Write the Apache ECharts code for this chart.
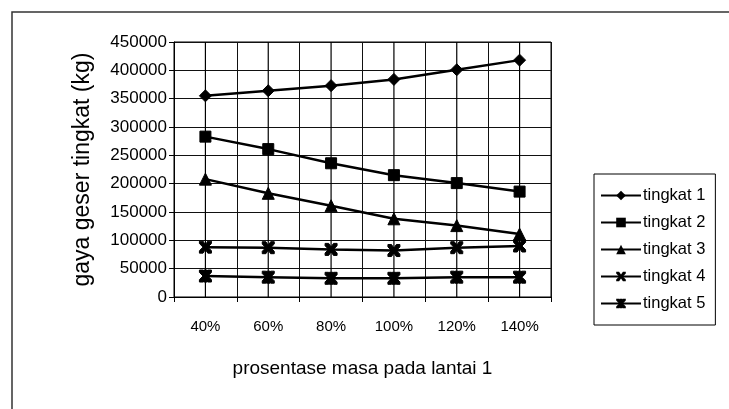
<!DOCTYPE html>
<html>
<head>
<meta charset="utf-8">
<script src="https://cdn.jsdelivr.net/npm/echarts@6/dist/echarts.min.js"></script>
<style>
  html, body { margin: 0; padding: 0; background: #fff; overflow: hidden; }
  #chart { width: 729px; height: 409px; }
</style>
</head>
<body>
<div id="chart"></div>
<script>
// Categories: share of mass on floor 1
const categories = ['40%', '60%', '80%', '100%', '120%', '140%'];

// Storey shear force (kg) for each floor
const tingkat1 = [355000, 364000, 373000, 384000, 401000, 418000];
const tingkat2 = [283000, 261000, 236000, 215000, 201000, 186000];
const tingkat3 = [208000, 183000, 161000, 138000, 126000, 111000];
const tingkat4 = [88000, 87000, 84000, 82000, 87000, 90000];
const tingkat5 = [37000, 35000, 33000, 33000, 35000, 35000];

const seriesNames = ['tingkat 1', 'tingkat 2', 'tingkat 3', 'tingkat 4', 'tingkat 5'];
const seriesValues = [tingkat1, tingkat2, tingkat3, tingkat4, tingkat5];

const yTicks = { min: 0, max: 450000, interval: 50000 };

// Marker shapes
const crossPath = 'path://M0,0 L3,0 L5,3 L7,0 L10,0 L10,2 L7,5 L10,8 L10,10 L7,10 L5,7 L3,10 L0,10 L0,8 L3,5 L0,2 Z';
const starPath = 'path://M0,0 L3,0 L5,3 L7,0 L10,0 L10,2 L7,5 L10,8 L10,10 L7,10 L5,7 L3,10 L0,10 L0,8 L3,5 L0,2 Z M3.5,0 L6.5,0 L6.5,10 L3.5,10 Z';
const symbols = ['diamond', 'rect', 'triangle', crossPath, starPath];
const symbolSizes = [12, 11, 12, 12, 12];

const FONT = 'Liberation Sans, Arial, sans-serif';

const chart = echarts.init(document.getElementById('chart'), null, { renderer: 'canvas' });

const series = seriesNames.map((name, i) => ({
  name: name,
  type: 'line',
  data: seriesValues[i],
  symbol: symbols[i],
  symbolSize: symbolSizes[i],
  showAllSymbol: true,
  lineStyle: { color: '#000', width: 2.5 },
  itemStyle: { color: '#000', borderColor: '#000' },
  z: 5,
  animation: false
}));

// Vertical line through each category, spanning the full value range
series.push({
  name: 'guide',
  type: 'custom',
  silent: true,
  z: 3,
  data: categories.map((c, i) => i),
  renderItem: function (params, api) {
    const top = api.coord([api.value(0), yTicks.max]);
    const bottom = api.coord([api.value(0), yTicks.min]);
    return {
      type: 'line',
      shape: { x1: top[0], y1: top[1], x2: bottom[0], y2: bottom[1] },
      style: { stroke: '#000', lineWidth: 1.2 }
    };
  },
  encode: { x: 0 }
});

chart.setOption({
  animation: false,
  backgroundColor: '#fff',
  textStyle: { fontFamily: FONT, color: '#000' },
  graphic: [{
    type: 'polyline',
    shape: { points: [[12, 409], [12, 12], [729, 12]] },
    style: { fill: 'none', stroke: '#333', lineWidth: 1.5 },
    silent: true
  }],
  grid: {
    left: 174, right: 178, top: 42, bottom: 112,
    show: true, borderColor: '#000', borderWidth: 1, backgroundColor: 'transparent'
  },
  legend: {
    orient: 'vertical',
    left: 594, top: 174,
    itemWidth: 40, itemHeight: 12,
    itemGap: 10,
    padding: [13, 10, 13, 6],
    borderColor: '#000', borderWidth: 1,
    textStyle: { fontFamily: FONT, fontSize: 16.5, color: '#000', padding: [0, 0, 0, -3] },
    data: seriesNames
  },
  xAxis: {
    type: 'category',
    data: categories,
    boundaryGap: true,
    name: 'prosentase masa pada lantai 1',
    nameLocation: 'middle',
    nameGap: 62,
    nameTextStyle: { fontFamily: FONT, fontSize: 19, color: '#000' },
    axisLine: { lineStyle: { color: '#000', width: 1 } },
    axisTick: { show: true, length: 5, lineStyle: { color: '#000' } },
    axisLabel: { fontFamily: FONT, fontSize: 15, color: '#000', margin: 22 },
    splitLine: { show: true, interval: 0, lineStyle: { color: '#111', width: 1 } }
  },
  yAxis: {
    type: 'value',
    min: yTicks.min, max: yTicks.max, interval: yTicks.interval,
    name: 'gaya geser tingkat (kg)',
    nameLocation: 'middle',
    nameRotate: 90,
    nameGap: 80,
    nameTextStyle: { fontFamily: FONT, fontSize: 23, color: '#000' },
    axisLine: { show: true, lineStyle: { color: '#000', width: 1 } },
    axisTick: { show: true, length: 5, lineStyle: { color: '#000' } },
    axisLabel: { fontFamily: FONT, fontSize: 17, color: '#000', margin: 7, formatter: v => String(v) },
    splitLine: { show: true, lineStyle: { color: '#111', width: 1 } }
  },
  series: series
});
</script>
</body>
</html>
